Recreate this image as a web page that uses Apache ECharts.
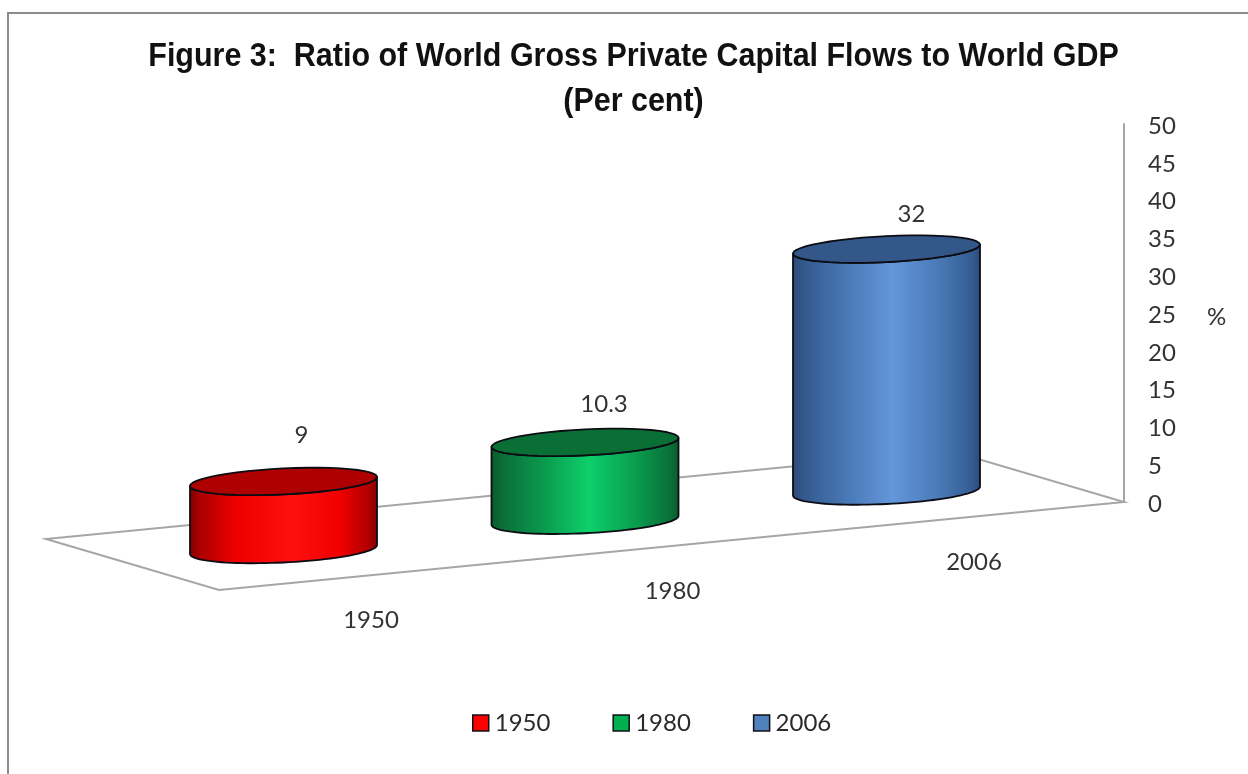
<!DOCTYPE html>
<html><head><meta charset="utf-8">
<style>html,body{margin:0;padding:0;background:#fff}#c{width:1248px;height:774px}</style>
<script src="https://cdn.jsdelivr.net/npm/echarts@6/dist/echarts.min.js"></script>
</head><body><div id="c"></div>
<script>
const categories = ['1950', '1980', '2006'];
const values = [9, 10.3, 32];
const valueLabels = ['9', '10.3', '32'];
const yTicks = {min: 0, max: 50, interval: 5};
const titleText = 'Figure 3:  Ratio of World Gross Private Capital Flows to World GDP\n(Per cent)';
const bodyStops = [
  [[0,'#7c0000'],[0.05,'#a80000'],[0.25,'#ef0000'],[0.55,'#ff1010'],[0.8,'#f00000'],[0.95,'#b00000'],[1,'#800000']],
  [[0,'#0a5a2c'],[0.06,'#0a6e37'],[0.28,'#0a9a4e'],[0.52,'#0dd06a'],[0.78,'#0a9a4e'],[0.95,'#0a7038'],[1,'#0a5a2c']],
  [[0,'#2b4a78'],[0.07,'#345a8e'],[0.3,'#4a7ab8'],[0.53,'#6396da'],[0.78,'#4a7ab6'],[0.95,'#355c92'],[1,'#2b4a78']]
];
const topColors = ['#ae0000', '#0a6f34', '#34578a'];
const legendColors = ['#ff0000', '#00b050', '#4f81bd'];

const RX = 93.5, RY = 13, SHEAR = -0.048;
const DEPTH_STEP = -29.25, DEPTH_BASE = 47.5;
const LABEL_RISE = [46, 38, 35];
const LABEL_SHIFT = [18, 19, 25];
const SEG = 48;

function ring(cx, cy, from, to) {
  const pts = [];
  for (let k = 0; k <= SEG; k++) {
    const t = from + (to - from) * k / SEG;
    pts.push([cx + RX * Math.cos(t), cy + RY * Math.sin(t) + RX * SHEAR * Math.cos(t)]);
  }
  return pts;
}

function renderCylinder(params, api) {
  const i = api.value(0);
  const top = api.coord([i, api.value(1)]);
  const zero = api.coord([i, 0]);
  const cx = zero[0];
  const h = zero[1] - top[1];
  const baseY = zero[1] + DEPTH_BASE + DEPTH_STEP * i;
  const topY = baseY - h;
  const outline = ring(cx, baseY, 0, Math.PI).concat(ring(cx, topY, Math.PI, 0));
  const stroke = '#0c0c14';
  const labelFont = '24px Lato';
  return {
    type: 'group',
    children: [
      {type: 'polygon', shape: {points: outline}, style: {
        fill: new echarts.graphic.LinearGradient(0, 0, 1, 0,
          bodyStops[i].map(s => ({offset: s[0], color: s[1]}))),
        stroke: stroke, lineWidth: 1.8, lineJoin: 'round'}},
      {type: 'polygon', shape: {points: ring(cx, topY, 0, 2 * Math.PI)},
        style: {fill: topColors[i], stroke: stroke, lineWidth: 1.8, lineJoin: 'round'}},
      {type: 'text', style: {x: cx + LABEL_SHIFT[i], y: topY - LABEL_RISE[i],
        text: valueLabels[i], font: labelFont, fill: '#333', align: 'center', verticalAlign: 'middle'}},
      {type: 'text', style: {x: cx + 87.5, y: baseY + 71,
        text: categories[i], font: labelFont, fill: '#333', align: 'center', verticalAlign: 'middle'}}
    ]
  };
}

const chart = echarts.init(document.getElementById('c'), null, {renderer: 'canvas'});
chart.setOption({
  animation: false,
  backgroundColor: '#ffffff',
  grid: {left: 132.75, right: 210.75, top: 124, bottom: 272},
  legend: {
    left: 467, top: 706, itemWidth: 16, itemHeight: 16, itemGap: 62, icon: 'rect',
    textStyle: {fontFamily: 'Lato', fontSize: 24, color: '#2a2a2a', padding: [0, 0, 0, 1]},
    data: categories.map((c, i) => ({name: c, itemStyle: {color: legendColors[i], borderColor: '#101018', borderWidth: 1.5}}))
  },
  xAxis: {type: 'category', data: categories, show: false},
  yAxis: {
    type: 'value', position: 'right', offset: 86.75,
    min: yTicks.min, max: yTicks.max, interval: yTicks.interval,
    name: '{p|%}', nameLocation: 'middle', nameGap: 83, nameRotate: 0,
    nameTextStyle: {rich: {p: {fontFamily: 'Lato', fontSize: 24, color: '#333', padding: [8, 0, 0, 0]}}},
    axisLine: {show: true, lineStyle: {color: '#a6a6a6', width: 2}},
    axisTick: {show: false},
    splitLine: {show: false},
    axisLabel: {margin: 24, align: 'left', formatter: '{v|{value}}',
      rich: {v: {fontFamily: 'Lato', fontSize: 24, color: '#333', padding: [4, 0, 0, 0]}}}
  },
  graphic: [
    {type: 'polyline', z: -1, shape: {points: [[8, 774], [8, 13], [1248, 13]]},
      style: {fill: null, stroke: '#8c8c8c', lineWidth: 2}},
    {type: 'polygon', z: 0, shape: {points: [[46, 539], [219, 590], [1124, 502], [951, 451]]},
      style: {fill: '#fff', stroke: '#a6a6a6', lineWidth: 2}},
    {type: 'text', z: 3, x: 633.5, y: 34, scaleX: 0.896, style: {
      text: titleText, font: 'bold 34px "Liberation Sans"', lineHeight: 45,
      fill: '#111', align: 'center'}}
  ],
  series: categories.map((c, i) => ({
    type: 'custom', name: c, coordinateSystem: 'cartesian2d', clip: false, z: 5,
    encode: {x: 0, y: 1},
    itemStyle: {color: legendColors[i]},
    renderItem: renderCylinder,
    data: [[c, values[i]]]
  }))
});
</script></body></html>
